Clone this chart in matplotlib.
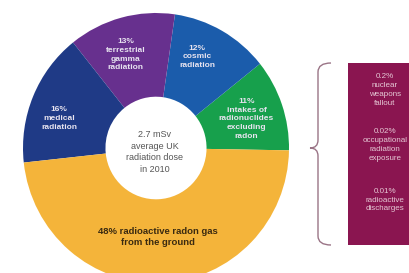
import matplotlib.pyplot as plt
from matplotlib.path import Path
import matplotlib.patches as mpatches

# main pie data (percent of the 2.7 mSv dose), counter-clockwise from the right
labels = ['11%\nintakes of\nradionuclides\nexcluding\nradon',
          '12%\ncosmic\nradiation',
          '13%\nterrestrial\ngamma\nradiation',
          '16%\nmedical\nradiation',
          '48% radioactive radon gas\nfrom the ground']
shares = [11, 12, 13, 16, 48]
colors = ['#17a04c', '#1b5cab', '#67308e', '#1f3a86', '#f4b43a']

# the tiny sources listed in the side box
small_labels = ['0.2%\nnuclear\nweapons\nfallout',
                '0.02%\noccupational\nradiation\nexposure',
                '0.01%\nradioactive\ndischarges']

centre_text = '2.7 mSv\naverage UK\nradiation dose\nin 2010'

W, H = 409, 273
fig = plt.figure(figsize=(W / 100, H / 100), dpi=100)
plt.rcParams['font.family'] = ['Liberation Sans', 'DejaVu Sans']

# pie axes placed in pixel terms (bottom runs off the figure)
ax = fig.add_axes([23 / W, -10 / H, 266 / W, 270 / H])
wedges, _ = ax.pie(shares, colors=colors, startangle=-1, counterclock=True,
                   radius=1, wedgeprops=dict(width=0.62, edgecolor='none'))
ax.set_aspect('auto')
ax.set_xlim(-1, 1)
ax.set_ylim(-1, 1)
ax.axis('off')

label_pos = [(0.68, 0.215), (0.31, 0.675), (-0.23, 0.69), (-0.73, 0.22), (0.015, -0.66)]
for i in range(len(labels)):
    if i == 4:
        ax.text(label_pos[i][0], label_pos[i][1], labels[i], ha='center', va='center',
                fontsize=6.8, fontweight='bold', color='#3a2a10', linespacing=1.2)
    else:
        ax.text(label_pos[i][0], label_pos[i][1], labels[i], ha='center', va='center',
                fontsize=6, fontweight='bold', color='#e8e4f0', linespacing=1.35)

ax.text(-0.01, -0.03, centre_text, ha='center', va='center', fontsize=6.5,
        color='#555555', linespacing=1.35)

# overlay in pixel coordinates for the bracket and the side box
ov = fig.add_axes([0, 0, 1, 1])
ov.set_xlim(0, W)
ov.set_ylim(H, 0)
ov.axis('off')

box = mpatches.Rectangle((348, 63), 70, 182, facecolor='#8a1550', edgecolor='none')
ov.add_patch(box)

verts = [(331, 63), (318, 63), (318, 72),
         (318, 140),
         (318, 148), (310, 148),
         (318, 148), (318, 156),
         (318, 236),
         (318, 245), (331, 245)]
codes = [Path.MOVETO, Path.CURVE3, Path.CURVE3,
         Path.LINETO,
         Path.CURVE3, Path.CURVE3,
         Path.CURVE3, Path.CURVE3,
         Path.LINETO,
         Path.CURVE3, Path.CURVE3]
ov.add_patch(mpatches.PathPatch(Path(verts, codes), facecolor='none',
                                edgecolor='#9a7486', lw=1.0))

small_y = [90, 145, 200]
for i in range(len(small_labels)):
    ov.text(385, small_y[i], small_labels[i], ha='center', va='center', fontsize=5.8,
            color='#e6c9d6', linespacing=1.35)

fig.savefig('out.png', dpi=100)
